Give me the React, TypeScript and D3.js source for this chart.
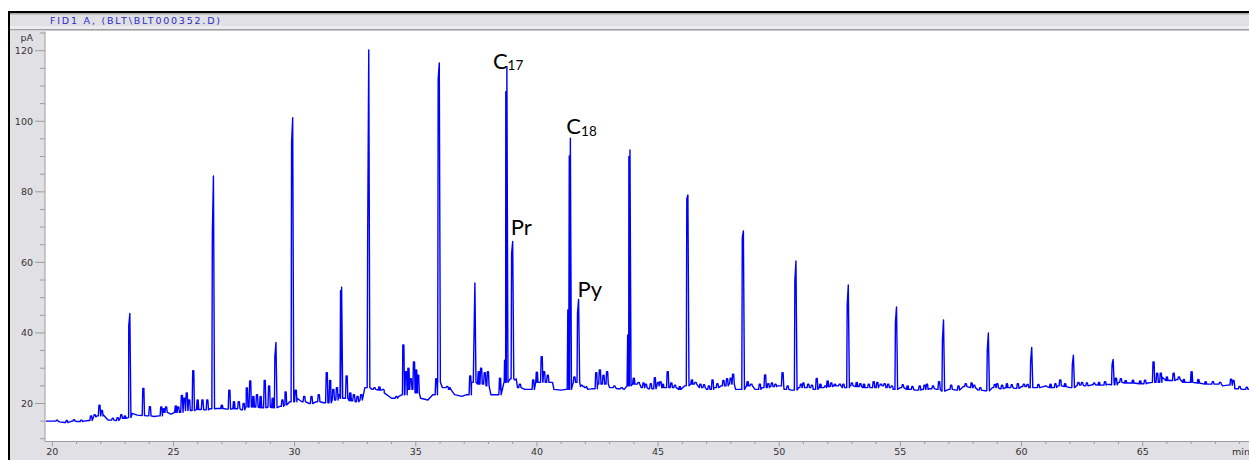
import React from 'react';
import * as d3 from 'd3';

const W = 1249;
const H = 460;

// baseline samples: [retention time (min), signal (pA)]
const baseline: [number, number][] = [
  [19.74, 15.0], [20.0, 15.0], [20.3, 14.8], [20.5, 14.6], [20.8, 15.0], [21.0, 14.9],
  [21.3, 15.0], [21.5, 15.2], [21.7, 16.2], [21.85, 16.5], [22.1, 16.8], [22.3, 15.3],
  [22.6, 15.2], [22.8, 15.8], [23.0, 15.8], [23.15, 16.0], [23.3, 17.2], [23.5, 16.7],
  [23.7, 16.6], [23.9, 16.5], [24.2, 16.3], [24.4, 16.5], [24.6, 17.5], [24.9, 17.0],
  [25.1, 17.5], [25.4, 18.0], [25.7, 18.0], [26.0, 18.3], [26.3, 18.2], [26.5, 18.5],
  [26.8, 18.6], [27.0, 18.6], [27.2, 18.4], [27.5, 18.5], [27.8, 18.2], [28.0, 19.0],
  [28.3, 19.0], [28.6, 18.8], [28.9, 19.0], [29.1, 18.8], [29.4, 19.2], [29.6, 19.6],
  [29.8, 20.5], [30.1, 21.5], [30.3, 20.5], [30.6, 20.0], [30.9, 20.5], [31.2, 20.2],
  [31.5, 21.0], [31.8, 21.5], [32.1, 21.5], [32.3, 20.8], [32.5, 20.5], [32.7, 21.0],
  [32.9, 24.5], [33.2, 24.0], [33.5, 23.8], [33.7, 23.0], [34.0, 21.5], [34.3, 22.0],
  [34.45, 22.5], [34.7, 24.0], [35.0, 23.0], [35.2, 21.5], [35.5, 21.0], [35.7, 22.5],
  [35.9, 26.0], [36.1, 24.5], [36.4, 24.0], [36.6, 22.5], [36.9, 22.0], [37.1, 22.5],
  [37.3, 26.0], [37.6, 25.5], [37.9, 25.0], [38.1, 22.5], [38.3, 22.5], [38.5, 24.0],
  [38.65, 26.0], [38.9, 27.0], [39.2, 24.5], [39.5, 24.0], [39.8, 24.0], [40.0, 26.0],
  [40.4, 26.0], [40.7, 24.0], [41.0, 23.8], [41.2, 24.0], [41.5, 26.0], [41.8, 24.8],
  [42.1, 24.0], [42.3, 24.2], [42.5, 25.5], [42.8, 25.5], [43.0, 24.5], [43.3, 24.2],
  [43.6, 24.0], [43.75, 25.0], [44.0, 25.5], [44.3, 24.5], [44.6, 24.2], [44.9, 25.0],
  [45.2, 24.5], [45.6, 24.5], [45.9, 24.0], [46.1, 25.0], [46.4, 25.5], [46.7, 24.5],
  [47.0, 24.0], [47.3, 24.5], [47.6, 25.0], [47.9, 25.5], [48.2, 24.0], [48.4, 24.0],
  [48.7, 25.0], [49.0, 24.0], [49.3, 24.5], [49.6, 24.8], [49.9, 25.0], [50.2, 24.0],
  [50.5, 23.8], [50.8, 24.5], [51.1, 24.5], [51.4, 24.0], [51.7, 24.5], [52.0, 24.8],
  [52.3, 25.0], [52.6, 24.5], [52.9, 25.0], [53.2, 24.8], [53.5, 24.5], [53.8, 24.5],
  [54.1, 25.0], [54.4, 24.5], [54.7, 24.0], [55.0, 24.5], [55.3, 24.0], [55.6, 23.8],
  [55.9, 24.0], [56.2, 24.2], [56.5, 24.0], [56.7, 23.5], [57.0, 24.0], [57.3, 23.8],
  [57.6, 24.8], [57.9, 24.5], [58.2, 23.8], [58.5, 23.6], [58.8, 24.5], [59.1, 24.2],
  [59.4, 24.5], [59.7, 24.3], [60.0, 24.8], [60.3, 24.5], [60.6, 24.5], [60.9, 24.8],
  [61.2, 24.5], [61.5, 25.0], [61.8, 24.8], [62.0, 24.5], [62.3, 25.2], [62.6, 25.0],
  [62.9, 25.3], [63.2, 25.2], [63.5, 25.5], [63.7, 25.3], [64.0, 26.0], [64.3, 25.8],
  [64.6, 25.8], [64.9, 25.6], [65.2, 25.8], [65.4, 26.0], [65.8, 27.5], [66.0, 26.5],
  [66.4, 26.8], [66.7, 26.0], [67.0, 26.0], [67.3, 25.8], [67.6, 25.5], [68.0, 25.5],
  [68.3, 25.0], [68.5, 25.2], [68.8, 24.2], [69.1, 24.0], [69.45, 24.0],
];

// big peaks: [time, apex, shoulder]
const majorPeaks: [number, number, number][] = [
  [23.2, 45.5, 42.0], [26.65, 84.5, 68.3], [29.23, 37.3, 33.3], [29.92, 101.0, 93.8],
  [31.94, 53.0, 52.0], [33.06, 120.2, 67.2], [35.97, 116.5, 112.0], [37.44, 54.2, 35.2],
  [38.76, 115.5, 108.4], [39.0, 65.9, 62.6], [41.38, 95.2, 90.2], [41.72, 49.5, 45.6],
  [43.84, 91.9, 90.0], [46.23, 79.1, 78.0], [48.52, 68.9, 67.0], [50.69, 60.4, 55.0],
  [52.85, 53.6, 48.0], [54.84, 47.4, 43.0], [56.78, 43.7, 38.0], [58.63, 40.0, 35.0],
  [60.42, 35.9, 32.0], [62.14, 33.7, 31.0], [63.78, 32.5, 31.0],
];

// small peaks: [time, apex]
const minorPeaks: [number, number][] = [
  [20.2, 15.3], [20.6, 15.2], [20.9, 15.4], [21.2, 15.3], [21.6, 16.5], [21.75, 16.8],
  [21.95, 19.5], [22.05, 18.0], [22.5, 15.8], [22.7, 16.0], [22.85, 16.8], [23.0, 16.5],
  [23.76, 24.3], [24.03, 19.1], [24.5, 19.0],
  [24.6, 18.5], [24.7, 19.0], [25.1, 19.3], [25.2, 19.0], [25.35, 22.3], [25.45, 21.5],
  [25.55, 23.0], [25.65, 21.0], [25.82, 29.3], [26.0, 21.0], [26.2, 21.0], [26.4, 21.0],
  [27.0, 19.5], [27.31, 23.8], [27.5, 20.5], [27.7, 20.5], [27.9, 20.0], [28.03, 24.4],
  [28.17, 26.4], [28.3, 22.0], [28.45, 22.5], [28.6, 22.0], [28.77, 26.5], [28.95, 25.0],
  [29.1, 21.5], [29.5, 21.0], [29.63, 23.3], [30.05, 23.8], [30.4, 22.0], [30.7, 22.0],
  [31.0, 22.5], [31.33, 28.7], [31.47, 26.5], [31.6, 24.0], [31.75, 24.5], [31.85, 22.5],
  [32.15, 27.8], [32.3, 23.0], [32.45, 22.5], [32.6, 22.0], [32.75, 22.5], [33.3, 24.5],
  [33.5, 24.7], [33.65, 24.0], [34.2, 22.0], [34.49, 36.6], [34.6, 29.0], [34.7, 30.0],
  [34.8, 27.0], [34.93, 31.8], [35.02, 29.5], [35.1, 28.0], [35.85, 27.0], [36.3, 24.8],
  [36.4, 24.5], [37.25, 27.8], [37.6, 29.0], [37.7, 30.0], [37.85, 28.7], [37.98, 29.0],
  [38.48, 27.2], [38.69, 32.3], [39.1, 26.7], [39.3, 25.5], [39.85, 26.7], [40.0, 28.9],
  [40.2, 33.3], [40.3, 29.0], [40.45, 28.0], [40.6, 26.0], [41.3, 46.5], [41.55, 27.5],
  [41.85, 25.2], [42.0, 24.5], [42.45, 28.7], [42.6, 29.5], [42.75, 28.0], [42.9, 29.0],
  [43.2, 25.0], [43.5, 24.5], [43.77, 39.4], [44.0, 27.2], [44.2, 26.0], [44.4, 25.8],
  [44.5, 25.5], [44.7, 25.6], [44.87, 27.3], [45.0, 26.0], [45.1, 26.2], [45.2, 25.5],
  [45.4, 29.0], [45.55, 25.8], [45.7, 25.2], [45.9, 24.8],
  [46.4, 26.7], [46.55, 26.0], [46.75, 25.5], [46.9, 25.3], [47.1, 25.0], [47.25, 26.7],
  [47.45, 25.6], [47.7, 26.5], [47.85, 27.0],
  [48.0, 27.2], [48.1, 28.3], [48.7, 26.2], [48.85, 25.5], [49.2, 25.5], [49.42, 28.1],
  [49.55, 25.6], [49.7, 25.8], [49.85, 25.5], [50.14, 28.7], [50.35, 25.0], [50.9, 25.5],
  [51.0, 25.8], [51.2, 25.5], [51.35, 25.2], [51.55, 27.1], [51.7, 25.5], [51.9, 25.0],
  [52.0, 26.4], [52.15, 25.8], [52.3, 25.5], [52.5, 25.5], [52.65, 25.5], [53.0, 25.8],
  [53.2, 26.0], [53.35, 25.6], [53.5, 25.5], [53.7, 25.5], [53.9, 26.2], [54.05, 26.0],
  [54.2, 25.5], [54.35, 25.6], [54.5, 25.5], [54.65, 25.0], [55.1, 25.3], [55.3, 25.0],
  [55.5, 24.8], [55.8, 25.0], [56.0, 25.2], [56.1, 25.5], [56.35, 25.0], [56.6, 26.2],
  [57.1, 25.2], [57.4, 25.0], [57.7, 25.6], [57.94, 25.8], [58.05, 25.2], [58.3, 24.5],
  [58.9, 25.4], [59.0, 25.6], [59.2, 25.2], [59.4, 25.6], [59.6, 25.3], [59.85, 25.6],
  [60.1, 25.5], [60.25, 25.4], [60.7, 25.4], [61.0, 25.0], [61.2, 25.5], [61.4, 25.6],
  [61.6, 26.7], [61.8, 25.6], [62.35, 26.0], [62.5, 26.0], [62.7, 25.8], [63.0, 25.8],
  [63.2, 26.0], [63.45, 26.2], [63.9, 27.2], [64.1, 27.0], [64.3, 26.5], [64.6, 26.6],
  [64.9, 26.4], [65.1, 26.6], [65.45, 31.8], [65.6, 28.6], [65.75, 28.6], [66.0, 27.5],
  [66.28, 28.6], [66.5, 27.5], [66.7, 26.8], [67.02, 29.0], [67.3, 26.8], [67.6, 26.2],
  [67.9, 26.2], [68.2, 26.0], [68.65, 26.9], [68.75, 26.5], [69.0, 24.8], [69.3, 24.6],
];

const xTickLabels = [20, 25, 30, 35, 40, 45, 50, 55, 60, 65];
const yTickLabels = [20, 40, 60, 80, 100, 120];

// annotated peaks
const labelNames = ['C', 'C', 'Pr', 'Py'];
const labelSubs = ['17', '18', '', ''];
const labelTimes = [38.76, 41.38, 39.0, 41.72];
const labelOffsets = [[-14, 2], [-4, -4], [-2, -6.5], [-1, -2.5]];

const x = d3.scaleLinear().domain([20, 65]).range([52.3, 1142.7]);
const y = d3.scaleLinear().domain([20, 120]).range([403.5, 50.7]);

const plotL = 45;
const plotT = 30.5;
const plotB = 441.5;

const baseAt = (t: number) => {
  const i = d3.bisector((d: [number, number]) => d[0]).right(baseline, t) - 1;
  return baseline[Math.max(0, i)][1];
};

const buildTrace = () => {
  const pts: [number, number][] = baseline.map(d => [d[0], d[1]]);
  minorPeaks.forEach(([t, h]) => {
    const b = baseAt(t);
    pts.push([t - 0.05, b], [t - 0.025, h], [t + 0.02, h], [t + 0.045, b]);
  });
  majorPeaks.forEach(([t, h, s]) => {
    const b = baseAt(t);
    pts.push([t - 0.065, b], [t - 0.045, s], [t, h], [t + 0.045, b]);
  });
  pts.sort((a, b) => a[0] - b[0]);
  return pts;
};

const panel = '#e1e0e5';
const axisGrey = '#9c9c9c';
const tickFont = "'DejaVu Sans', sans-serif";

export default function App() {
  const trace = buildTrace();
  const line = d3.line<[number, number]>()
    .x(d => x(d[0]))
    .y(d => y(d[1]));

  const yMinor = d3.range(10, 126, 5).filter(v => v % 20 !== 0);
  const xMinor = d3.range(20, 70, 1).filter(v => v % 5 !== 0);

  return (
    <svg width={W} height={H} style={{ position: 'absolute', left: 0, top: 0, display: 'block' }}>
      <rect x={0} y={0} width={W} height={H} fill="#fff" />

      {/* header strip */}
      <rect x={10} y={13} width={W - 10} height={17.5} fill={panel} />
      <rect x={10} y={13} width={W - 10} height={1.5} fill="#a8a8ac" />
      <rect x={10} y={26} width={W - 10} height={3} fill="#ececef" />
      <rect x={10} y={29} width={W - 10} height={1.5} fill="#a0a0a4" />
      <text x={50} y={24} fontFamily={tickFont} fontSize={9.5} fill="#2a2ac8"
        textLength={170} lengthAdjust="spacing">FID1 A, (BLT\BLT000352.D)</text>

      {/* left and bottom panels */}
      <rect x={10} y={plotT} width={plotL - 10} height={H - plotT} fill={panel} />
      <rect x={10} y={plotB} width={W - 10} height={H - plotB} fill={panel} />

      {/* black outer border */}
      <rect x={8} y={11} width={W - 8} height={2} fill="#000" />
      <rect x={8} y={11} width={2} height={H - 11} fill="#000" />

      {/* y axis */}
      <line x1={plotL} x2={plotL} y1={plotT + 1} y2={plotB} stroke={axisGrey} strokeWidth={1} />
      {yMinor.map(v => (
        <line key={'ym' + v} x1={40} x2={plotL} y1={y(v)} y2={y(v)} stroke={axisGrey} strokeWidth={1} />
      ))}
      {yTickLabels.map(v => (
        <g key={'y' + v}>
          <line x1={35} x2={plotL} y1={y(v)} y2={y(v)} stroke={axisGrey} strokeWidth={1} />
          <text x={33} y={y(v) + 3.5} textAnchor="end" fontFamily={tickFont} fontSize={9.5} fill="#333">{v}</text>
        </g>
      ))}
      <text x={33} y={41} textAnchor="end" fontFamily={tickFont} fontSize={9.5} fill="#333">pA</text>

      {/* x axis */}
      <line x1={plotL} x2={W} y1={plotB} y2={plotB} stroke={axisGrey} strokeWidth={1} />
      {xMinor.map(v => (
        <line key={'xm' + v} x1={x(v)} x2={x(v)} y1={plotB} y2={plotB + 2.5} stroke={axisGrey} strokeWidth={1} />
      ))}
      {xTickLabels.map(v => (
        <g key={'x' + v}>
          <line x1={x(v)} x2={x(v)} y1={plotB} y2={plotB + 5} stroke={axisGrey} strokeWidth={1} />
          <text x={x(v)} y={455} textAnchor="middle" fontFamily={tickFont} fontSize={9.5} fill="#333">{v}</text>
        </g>
      ))}
      <text x={1232} y={455} fontFamily={tickFont} fontSize={9.5} fill="#333">min</text>

      {/* signal */}
      <defs>
        <clipPath id="plotClip">
          <rect x={plotL + 0.5} y={plotT} width={W - plotL} height={plotB - plotT - 0.5} />
        </clipPath>
      </defs>
      <path d={line(trace) || ''} fill="none" stroke="#0000ff" strokeWidth={1.4}
        strokeLinejoin="round" clipPath="url(#plotClip)" />

      {/* peak annotations */}
      {labelNames.map((name, i) => {
        const t = labelTimes[i];
        const pk = majorPeaks.find(p => p[0] === t)!;
        const [dx, dy] = labelOffsets[i];
        return (
          <text key={'lab' + i} x={x(t) + dx} y={y(pk[1]) + dy} fontFamily="Lato, 'Open Sans', sans-serif"
            fontSize={22} fill="#000">
            {name}
            {labelSubs[i] && (
              <tspan fontSize={13.5} dy={1.5}>{labelSubs[i]}</tspan>
            )}
          </text>
        );
      })}
    </svg>
  );
}
